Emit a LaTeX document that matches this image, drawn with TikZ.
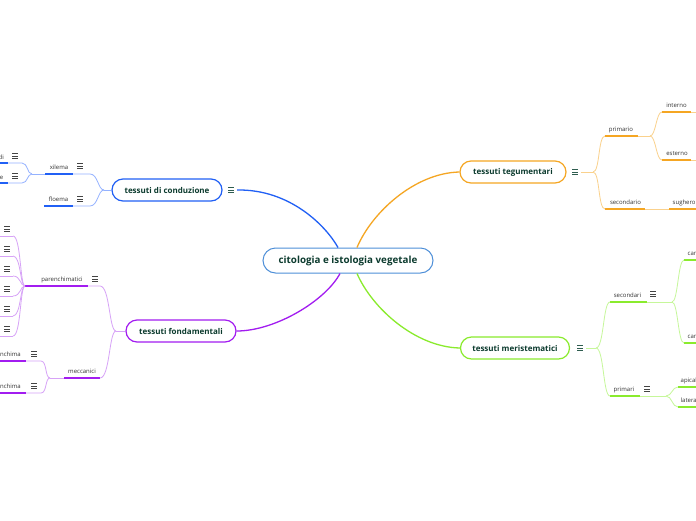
\documentclass[tikz,border=0pt]{standalone}
\usepackage{fontspec}
\setmainfont{Open Sans}
\definecolor{blueM}{HTML}{2160F5}
\definecolor{blueL}{HTML}{94B2FF}
\definecolor{orangeM}{HTML}{F5A623}
\definecolor{orangeL}{HTML}{FAD18C}
\definecolor{greenM}{HTML}{8AEB2D}
\definecolor{greenL}{HTML}{C6F79A}
\definecolor{purpM}{HTML}{A21CF0}
\definecolor{purpL}{HTML}{D7A3F7}
\definecolor{centM}{HTML}{4E8FD8}
\definecolor{textc}{HTML}{0C3B2E}
\definecolor{labc}{HTML}{333333}
\definecolor{iconc}{HTML}{444444}
\definecolor{iconM}{HTML}{2F5D50}
\tikzset{
  topic/.style={draw, line width=1.2pt, fill=white, rounded corners=11pt, minimum height=22pt, inner sep=0pt, text=textc, font=\fontsize{8}{9.6}\selectfont\bfseries},
  lab/.style={inner sep=0pt, text=labc, font=\fontsize{6}{7}\selectfont, anchor=base},
  ul/.style={line width=1.8pt},
  br/.style={line width=0.8pt},
  conn/.style={line width=1.3pt},
  menu/.pic={\draw[line width=0.75pt] (-3,-2.4) -- (3,-2.4) (-3,0) -- (3,0) (-3,2.4) -- (3,2.4);},
}
\begin{document}
\begin{tikzpicture}[x=1pt,y=-1pt]
\useasboundingbox (0,0) rectangle (696,520);
\clip (0,0) rectangle (696,520);
\fill[white] (0,0) rectangle (696,520);

% central
\node[topic, draw=centM, line width=1pt, minimum width=170pt, minimum height=25pt, rounded corners=12.5pt, font=\fontsize{9.8}{11}\selectfont\bfseries] (c) at (348,260.5) {citologia e istologia vegetale};

% ===== BLUE: tessuti di conduzione
\node[topic, draw=blueM, minimum width=110pt] (cond) at (167,190) {tessuti di conduzione};
\pic[color=iconM] (condic) at (231,190) {menu};
\coordinate (condout) at (237,190);
\draw[conn, blueM] (condout) .. controls (290,189) and (326,226) .. ([xshift=-10pt]c.north);
\coordinate (condhub) at (104,190);
\draw[br, blueL] (cond.west) -- (condhub);
% xilema
\node[lab] (xil) at (59,169) {xilema};
\coordinate (xilL) at (45,174); \coordinate (xilR) at (73,174); \coordinate (xilE) at (90,174);
\draw[ul, blueM] (xilL) -- (xilR);
\draw[br, blueL] (xilR) -- (xilE) .. controls +(8,0) and +(-6,0) .. (condhub);
\pic[color=iconc] (xilic) at (80,166) {menu};
% floema
\node[lab] (flo) at (58.5,201) {floema};
\coordinate (floL) at (44,206); \coordinate (floR) at (73,206); \coordinate (floE) at (90,206);
\draw[ul, blueM] (floL) -- (floR);
\draw[br, blueL] (floR) -- (floE) .. controls +(8,0) and +(-6,0) .. (condhub);
\pic[color=iconc] (floic) at (80,199) {menu};
% xilema children
\coordinate (xilhub) at (32,174);
\draw[br, blueL] (xilhub) -- (xilL);
\node[lab, anchor=base east] (trd) at (4,159) {tracheidi};
\coordinate (trdL) at (-40,163); \coordinate (trdR) at (8,163); \coordinate (trdE) at (22,163);
\draw[ul, blueM] (trdL) -- (trdR);
\draw[br, blueL] (trdR) -- (trdE) .. controls +(6,0) and +(-5,0) .. (xilhub);
\pic[color=iconc] (trdic) at (15,156) {menu};
\node[lab, anchor=base east] (tre) at (3.5,179) {trachee};
\coordinate (treL) at (-40,183); \coordinate (treR) at (8,183); \coordinate (treE) at (22,183);
\draw[ul, blueM] (treL) -- (treR);
\draw[br, blueL] (treR) -- (treE) .. controls +(6,0) and +(-5,0) .. (xilhub);
\pic[color=iconc] (treic) at (15,176) {menu};

% ===== PURPLE: tessuti fondamentali
\node[topic, draw=purpM, minimum width=110pt] (fond) at (181,331) {tessuti fondamentali};
\draw[conn, purpM] (fond.east) .. controls (276,331) and (326,300) .. ([xshift=-8pt]c.south);
\coordinate (fondhub) at (116,331);
\draw[br, purpL] (fond.west) -- (fondhub);
% parenchimatici
\node[lab] (par) at (62,281) {parenchimatici};
\coordinate (parL) at (25,286); \coordinate (parR) at (88,286); \coordinate (parE) at (100,286);
\draw[ul, purpM] (parL) -- (parR);
\draw[br, purpL] (parR) -- (parE) .. controls +(10,0) and +(-7,0) .. (fondhub);
\pic[color=iconc] (paric) at (95,279) {menu};
\foreach \i/\y in {1/236,2/256,3/276,4/296,5/316,6/336}{
  \coordinate (pc\i) at (13,\y);
  \draw[br, purpL] (pc\i) -- ++(-20,0);
  \draw[br, purpL] (pc\i) .. controls +(8,0) and +(-5,0) .. (parL);
  \pic[color=iconc] (pci\i) at (7,{\y-7}) {menu};
}
% meccanici
\node[lab] (mec) at (82,373) {meccanici};
\coordinate (mecL) at (64,378); \coordinate (mecR) at (100,378);
\draw[ul, purpM] (mecL) -- (mecR);
\draw[br, purpL] (mecR) .. controls +(10,0) and +(-7,0) .. (fondhub);
\coordinate (mechub) at (50,378);
\draw[br, purpL] (mechub) -- (mecL);
\node[lab, anchor=base east] (col) at (21,356) {collenchima};
\coordinate (colL) at (-40,361); \coordinate (colR) at (26,361); \coordinate (colE) at (41,361);
\draw[ul, purpM] (colL) -- (colR);
\draw[br, purpL] (colR) -- (colE) .. controls +(6,0) and +(-5,0) .. (mechub);
\pic[color=iconc] (colic) at (34,354) {menu};
\node[lab, anchor=base east] (scl) at (21,388) {sclerenchima};
\coordinate (sclL) at (-40,393); \coordinate (sclR) at (26,393); \coordinate (sclE) at (41,393);
\draw[ul, purpM] (sclL) -- (sclR);
\draw[br, purpL] (sclR) -- (sclE) .. controls +(6,0) and +(-5,0) .. (mechub);
\pic[color=iconc] (sclic) at (34,386) {menu};

% ===== ORANGE: tessuti tegumentari
\node[topic, draw=orangeM, minimum width=106pt] (teg) at (513,172) {tessuti tegumentari};
\draw[conn, orangeM] ([xshift=9pt]c.north) .. controls (372,212) and (415,173) .. (teg.west);
\pic[color=iconM] (tegic) at (575,172) {menu};
\coordinate (tegout) at (581,172); \coordinate (teghub) at (593,172);
\draw[br, orangeL] (tegout) -- (teghub);
% primario
\node[lab] (pri) at (621,131) {primario};
\coordinate (priL) at (605,136); \coordinate (priR) at (638,136); \coordinate (prihub) at (650,136);
\draw[ul, orangeM] (priL) -- (priR);
\draw[br, orangeL] (priR) -- (prihub);
\draw[br, orangeL] (teghub) .. controls +(7,0) and +(-7,0) .. (priL);
% secondario
\node[lab] (sec) at (625.5,204) {secondario};
\coordinate (secL) at (605,209); \coordinate (secR) at (645,209);
\draw[ul, orangeM] (secL) -- (secR);
\draw[br, orangeL] (teghub) .. controls +(7,0) and +(-7,0) .. (secL);
% sughero
\node[lab, anchor=base west] (sug) at (672.5,204) {sughero};
\coordinate (sugL) at (669,209); \coordinate (sugR) at (710,209);
\draw[br, orangeL] (secR) -- (sugL);
\draw[ul, orangeM] (sugL) -- (sugR);
% interno / esterno
\node[lab] (int) at (676.5,107) {interno};
\coordinate (intL) at (662,112); \coordinate (intR) at (691,112); \coordinate (intE) at (710,112);
\draw[ul, orangeM] (intL) -- (intR);
\draw[br, orangeL] (intR) -- (intE);
\draw[br, orangeL] (prihub) .. controls +(6,0) and +(-6,0) .. (intL);
\node[lab] (est) at (677,155) {esterno};
\coordinate (estL) at (662,160); \coordinate (estR) at (691,160); \coordinate (estE) at (710,160);
\draw[ul, orangeM] (estL) -- (estR);
\draw[br, orangeL] (estR) -- (estE);
\draw[br, orangeL] (prihub) .. controls +(6,0) and +(-6,0) .. (estL);

% ===== GREEN: tessuti meristematici
\node[topic, draw=greenM, minimum width=109pt] (mer) at (515,348) {tessuti meristematici};
\draw[conn, greenM] ([xshift=9pt]c.south) .. controls (372,308) and (415,347) .. (mer.west);
\pic[color=iconM] (meric) at (580,348) {menu};
\coordinate (merout) at (586,348); \coordinate (merhub) at (596,348);
\draw[br, greenL] (merout) -- (merhub);
% secondari
\node[lab] (sei) at (627.5,297) {secondari};
\coordinate (seiL) at (610,302); \coordinate (seiR) at (647,302); \coordinate (seihub) at (672,302);
\draw[ul, greenM] (seiL) -- (seiR);
\draw[br, greenL] (seiR) -- (seihub);
\draw[br, greenL] (merhub) .. controls +(8,0) and +(-7,0) .. (seiL);
\pic[color=iconc] (seiic) at (653,294) {menu};
% primari
\node[lab] (pri2) at (624,391) {primari};
\coordinate (prL) at (610,396); \coordinate (prR) at (640,396); \coordinate (prhub) at (666,396);
\draw[ul, greenM] (prL) -- (prR);
\draw[br, greenL] (prR) -- (prhub);
\draw[br, greenL] (merhub) .. controls +(8,0) and +(-7,0) .. (prL);
\pic[color=iconc] (pr2ic) at (647,389) {menu};
% secondari children
\node[lab, anchor=base west] (cam1) at (687.5,255) {cambio cribro-vascolare};
\coordinate (cam1L) at (684,260); \coordinate (cam1R) at (760,260);
\draw[ul, greenM] (cam1L) -- (cam1R);
\draw[br, greenL] (seihub) .. controls +(6,0) and +(-6,0) .. (cam1L);
\node[lab, anchor=base west] (cam2) at (687.5,338) {cambio subero-fellodermico};
\coordinate (cam2L) at (684,343); \coordinate (cam2R) at (760,343);
\draw[ul, greenM] (cam2L) -- (cam2R);
\draw[br, greenL] (seihub) .. controls +(6,0) and +(-6,0) .. (cam2L);
% primari children
\node[lab, anchor=base west] (api) at (680.5,382) {apicali};
\coordinate (apiL) at (678,387); \coordinate (apiR) at (740,387);
\draw[ul, greenM] (apiL) -- (apiR);
\draw[br, greenL] (prhub) .. controls +(6,0) and +(-6,0) .. (apiL);
\node[lab, anchor=base west] (lat) at (680.5,402) {laterali};
\coordinate (latL) at (678,407); \coordinate (latR) at (740,407);
\draw[ul, greenM] (latL) -- (latR);
\draw[br, greenL] (prhub) .. controls +(6,0) and +(-6,0) .. (latL);
\end{tikzpicture}
\end{document}
